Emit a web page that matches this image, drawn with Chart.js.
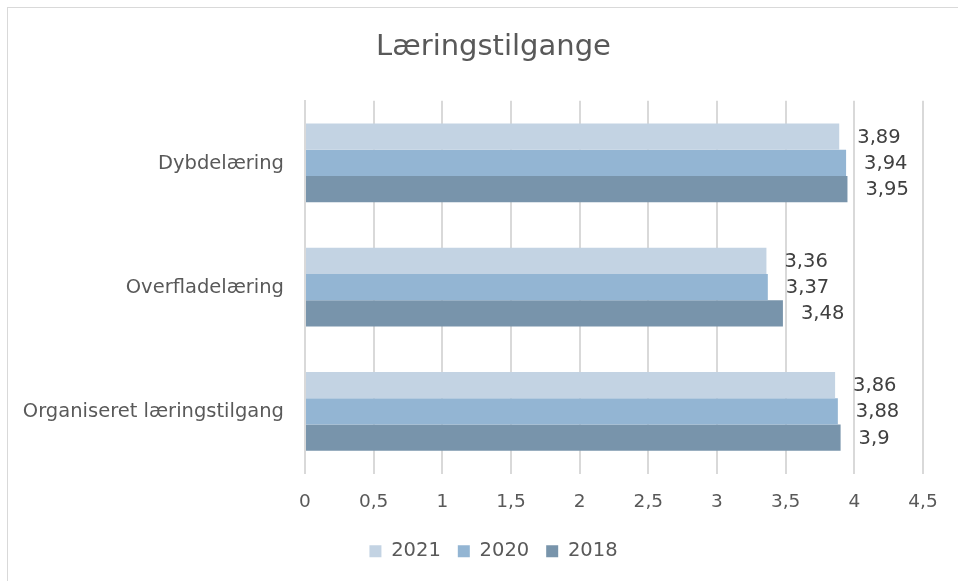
<!DOCTYPE html>
<html>
<head>
<meta charset="utf-8">
<script src="https://cdn.jsdelivr.net/npm/chart.js@4"></script>
<style>
  html, body { margin: 0; padding: 0; background: #fff; }
  #wrap { position: relative; width: 958px; height: 581px; }
  #frame { position: absolute; left: 7px; top: 7px; right: -2px; bottom: -2px; border: 1px solid #d9d9d9; }
  canvas { position: absolute; left: 0; top: 0; }
</style>
</head>
<body>
<div id="wrap">
  <div id="frame"></div>
  <canvas id="chart" width="958" height="581"></canvas>
</div>
<script>
const categories = ['Dybdelæring', 'Overfladelæring', 'Organiseret læringstilgang'];
const seriesNames = ['2021', '2020', '2018'];
const values2021 = [3.89, 3.36, 3.86];
const values2020 = [3.94, 3.37, 3.88];
const values2018 = [3.95, 3.48, 3.9];
const colors = ['#c3d3e3', '#93b5d3', '#7894ab'];

const FONT = '"DejaVu Sans", sans-serif';
const TEXT = '#595959';

function fmt(v) {
    return String(v).replace('.', ',');
}

// value labels to the right of each bar
const barLabels = {
    id: 'barLabels',
    afterDatasetsDraw(chart) {
        const ctx = chart.ctx;
        ctx.save();
        ctx.font = '19.5px ' + FONT;
        ctx.fillStyle = '#404040';
        ctx.textBaseline = 'middle';
        ctx.textAlign = 'left';
        chart.data.datasets.forEach((ds, i) => {
            const meta = chart.getDatasetMeta(i);
            meta.data.forEach((bar, j) => {
                ctx.fillText(fmt(ds.data[j]), bar.x + 18, bar.y + 1);
            });
        });
        ctx.restore();
    }
};

// category labels, drawn here so they are not clipped to the axis box
const categoryLabels = {
    id: 'categoryLabels',
    afterDraw(chart) {
        const scale = chart.scales.y;
        const ctx = chart.ctx;
        ctx.save();
        ctx.font = '19.5px ' + FONT;
        ctx.fillStyle = TEXT;
        ctx.textBaseline = 'middle';
        ctx.textAlign = 'right';
        categories.forEach((name, i) => {
            ctx.fillText(name, scale.right - 21, scale.getPixelForTick(i) + 1);
        });
        ctx.restore();
    }
};

const allValues = [values2021, values2020, values2018];

new Chart(document.getElementById('chart'), {
    type: 'bar',
    data: {
        labels: categories,
        datasets: seriesNames.map((name, i) => ({
            label: name,
            data: allValues[i],
            backgroundColor: colors[i],
            borderWidth: 0,
            categoryPercentage: 0.634,
            barPercentage: 1
        }))
    },
    options: {
        indexAxis: 'y',
        responsive: false,
        animation: false,
        layout: { padding: { left: 64, right: 35, top: 0, bottom: 10 } },
        scales: {
            x: {
                min: 0,
                max: 4.5,
                ticks: {
                    stepSize: 0.5,
                    color: TEXT,
                    font: { family: FONT, size: 18.5 },
                    padding: 18,
                    callback: v => fmt(v)
                },
                grid: { color: '#d9d9d9', lineWidth: 2, drawTicks: false },
                border: { display: false },
                afterFit: s => { s.height = 51; }
            },
            y: {
                ticks: { display: false },
                grid: { display: false, drawTicks: false },
                border: { display: true, color: '#d9d9d9', width: 2 },
                afterFit: s => { s.width = 241; }
            }
        },
        plugins: {
            title: {
                display: true,
                text: 'Læringstilgange',
                color: TEXT,
                font: { family: FONT, size: 29, weight: 'normal' },
                padding: { top: 30, bottom: 36 }
            },
            legend: {
                position: 'bottom',
                labels: {
                    color: TEXT,
                    font: { family: FONT, size: 19.5 },
                    boxWidth: 12,
                    boxHeight: 12,
                    padding: 17
                }
            },
            tooltip: { enabled: false }
        }
    },
    plugins: [barLabels, categoryLabels]
});
</script>
</body>
</html>
